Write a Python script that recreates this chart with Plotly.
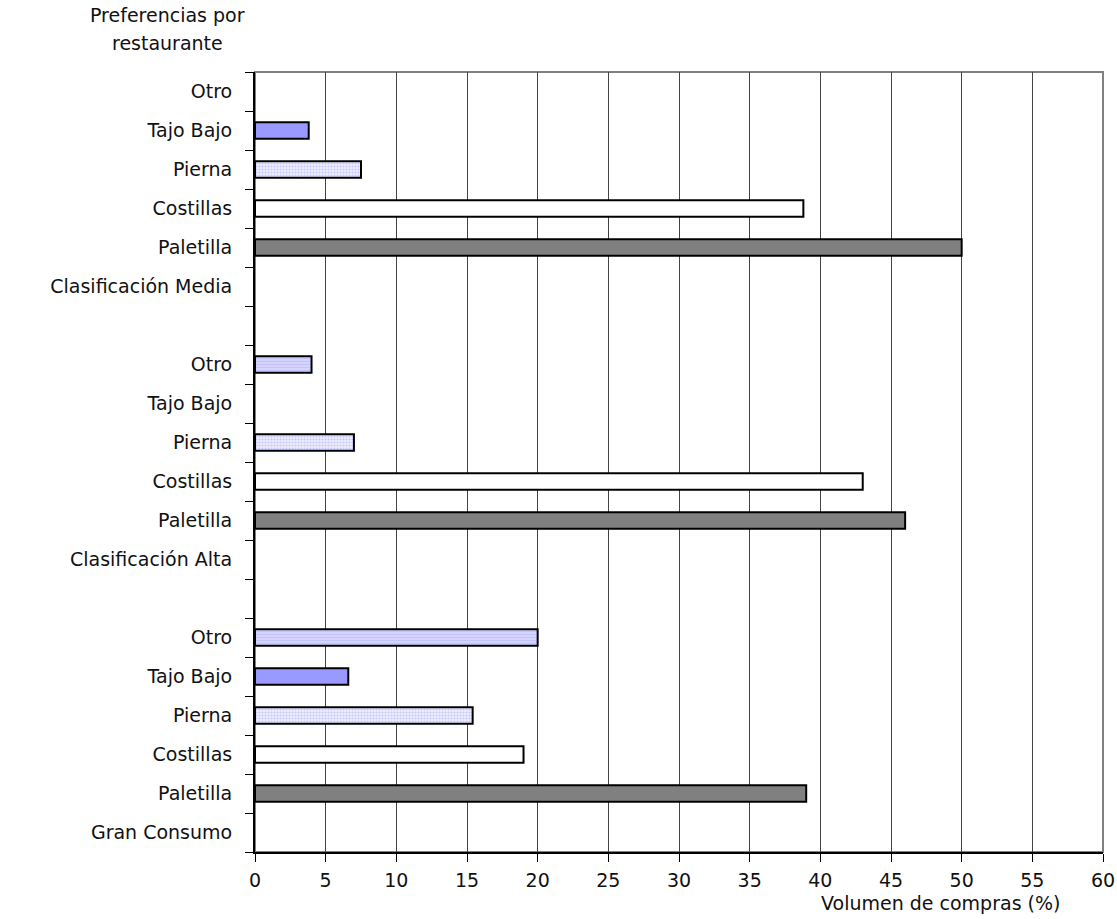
import plotly.graph_objects as go

# Data
groups = ["Gran Consumo", "Clasificación Alta", "Clasificación Media"]
cuts = ["Paletilla", "Costillas", "Pierna", "Tajo Bajo", "Otro"]
paletilla = [39.0, 46.0, 50.0]
costillas = [19.0, 43.0, 38.8]
pierna = [15.4, 7.0, 7.5]
tajo_bajo = [6.6, 0.0, 3.8]
otro = [20.0, 4.0, 0.0]
x_ticks = [0, 5, 10, 15, 20, 25, 30, 35, 40, 45, 50, 55, 60]
y_title_lines = ["Preferencias por", "restaurante"]

series = {"Paletilla": paletilla, "Costillas": costillas, "Pierna": pierna,
          "Tajo Bajo": tajo_bajo, "Otro": otro}

# Build row labels (bottom to top)
row_labels = []
row_pos = {}
for gi, g in enumerate(groups):
    row_labels.append(g)
    for c in cuts:
        row_pos[(gi, c)] = len(row_labels) + 0.5
        row_labels.append(c)
    if gi < len(groups) - 1:
        row_labels.append("")
n_rows = len(row_labels)

styles = {
    "Paletilla": dict(color="#808080"),
    "Costillas": dict(color="#ffffff"),
    "Pierna": dict(color="#e4e4ff", pattern=dict(shape=".", fgcolor="#a0a0ff",
                                                 bgcolor="#eeeeff", size=3, solidity=0.4)),
    "Tajo Bajo": dict(color="#9999ff"),
    "Otro": dict(color="#ccccff", pattern=dict(shape="-", fgcolor="#b0b0ff",
                                               bgcolor="#d6d6ff", size=3, solidity=0.4)),
}

fig = go.Figure()
for c in cuts:
    vals = series[c]
    ys = [row_pos[(gi, c)] for gi in range(len(groups))]
    keep = [(x, y) for x, y in zip(vals, ys) if x > 0]
    fig.add_trace(go.Bar(
        x=[k[0] for k in keep], y=[k[1] for k in keep], orientation="h",
        width=0.42, name=c,
        marker=dict(line=dict(color="black", width=2), **styles[c]),
        showlegend=False,
    ))

FS = 19
font = dict(family="DejaVu Sans", size=FS, color="#111111")

annotations = []
for i, line in enumerate(y_title_lines):
    annotations.append(dict(text=line, xref="paper", yref="paper",
                            x=(167 - 255) / 848, y=1, yshift=72 - 15 - 28 * i,
                            xanchor="center", yanchor="middle",
                            showarrow=False, font=font))
annotations.append(dict(text="Volumen de compras (%)", xref="paper", yref="paper",
                        x=(1062 - 255) / 848, y=0, yshift=-51, xanchor="right",
                        yanchor="middle", showarrow=False, font=font))

fig.update_layout(
    width=1117, height=919,
    margin=dict(l=255, r=14, t=72, b=67),
    paper_bgcolor="white", plot_bgcolor="white",
    barmode="overlay",
    font=font,
    xaxis=dict(range=[0, 60], tickvals=x_ticks, ticktext=[str(v) for v in x_ticks],
               showgrid=True, gridcolor="#444444", gridwidth=1,
               ticks="outside", ticklen=8, tickcolor="black",
               showline=True, linecolor="black", linewidth=2, automargin=False,
               zeroline=False, fixedrange=True, ticklabelstandoff=2),
    yaxis=dict(range=[0, n_rows], tickmode="array",
               tickvals=[i + 0.5 for i in range(n_rows)], ticktext=row_labels,
               ticks="", showgrid=False, zeroline=False, automargin=False,
               showline=True, linecolor="black", linewidth=2,
               ticklabelstandoff=17,
               minor=dict(tickmode="linear", tick0=0, dtick=1, ticks="outside",
                          ticklen=8, tickcolor="black", showgrid=False)),
    shapes=[dict(type="rect", xref="paper", yref="paper", x0=0, x1=1, y0=0, y1=1,
                 line=dict(color="#808080", width=2), layer="below")],
    annotations=annotations,
)

fig.write_html("out.html", config={"displayModeBar": False},
               post_script="document.body.style.margin='0';document.body.style.overflow='hidden';")
